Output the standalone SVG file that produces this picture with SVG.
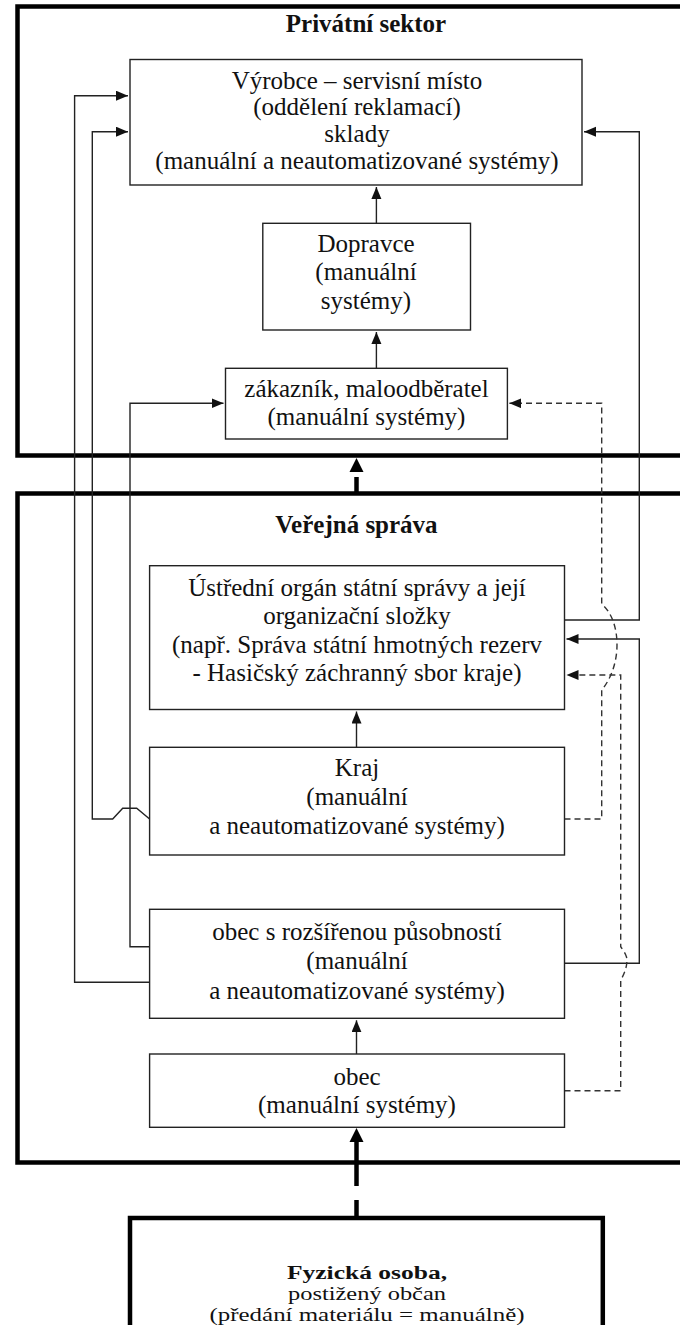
<svg xmlns="http://www.w3.org/2000/svg" width="680" height="1325" viewBox="0 0 680 1325">
<defs>
<style>
.frame{fill:none;stroke:#000;stroke-width:4.5}
.box{fill:#fff;stroke:#222;stroke-width:1.4}
.thick{fill:#fff;stroke:#000;stroke-width:4.5}
.t{font-family:"Liberation Serif","Times New Roman",serif;font-size:25px;fill:#111;text-anchor:middle}
.s{font-size:18.5px}
.b{font-weight:bold}
.c{fill:none;stroke:#222;stroke-width:1.4}
.d{fill:none;stroke:#333;stroke-width:1.4;stroke-dasharray:6 4}
.tk{stroke:#000;stroke-width:4.5}
</style>
<marker id="ah" markerUnits="userSpaceOnUse" markerWidth="13" markerHeight="11" refX="12" refY="5" orient="auto">
<path d="M0,0 L12,5 L0,10 z" fill="#111"/>
</marker>
</defs>
<rect width="680" height="1325" fill="#fff"/>
<g id="frame-privatni">
<rect class="frame" x="17.5" y="6.5" width="690" height="449"/>
<text class="t b" x="366" y="32">Privátní sektor</text>
</g>
<g id="frame-verejna">
<rect class="frame" x="17.5" y="493.5" width="690" height="669"/>
<text class="t b" x="356.5" y="533">Veřejná správa</text>
</g>
<g id="connectors">
<path class="c" d="M149.6,982.3 H74.6 V95.7 H128" marker-end="url(#ah)"/>
<path class="c" d="M149.6,819 L136.7,808.3 H122.7 L112.7,819 H92.3 V131.7 H128" marker-end="url(#ah)"/>
<path class="c" d="M149.6,946.7 H130 V403.3 H223.5" marker-end="url(#ah)"/>
<path class="c" d="M564.5,620 H639.3 V131.7 H584" marker-end="url(#ah)"/>
<path class="c" d="M564.5,963.3 H639.3 V639 H566.5" marker-end="url(#ah)"/>
<path class="d" d="M564.5,819 H601.7 V690 C611,679 617,662 617,645 C617,626 611,612 601.7,604 V403.3 H509.4" marker-end="url(#ah)"/>
<path class="d" d="M564.5,1090.7 H620.7 V980 C625,973 628,964 626.5,957 C625,952 622,949 620.7,946.7 V675 H566.5" marker-end="url(#ah)"/>
<path class="c" d="M376.4,223.3 V187" marker-end="url(#ah)"/>
<path class="c" d="M376.4,368.3 V332" marker-end="url(#ah)"/>
<path class="c" d="M356.5,747.3 V711.5" marker-end="url(#ah)"/>
<path class="c" d="M356.5,1054 V1020.3" marker-end="url(#ah)"/>
<line class="tk" x1="356.5" y1="495" x2="356.5" y2="477"/>
<polygon points="356.5,458 349.5,472 363.5,472" fill="#000"/>
<line class="tk" x1="356.5" y1="1216" x2="356.5" y2="1200"/>
<line class="tk" x1="356.5" y1="1186" x2="356.5" y2="1160"/>
<line class="tk" x1="356.5" y1="1160" x2="356.5" y2="1142"/>
<polygon points="356.5,1128 349.5,1142 363.5,1142" fill="#000"/>
</g>
<g id="vyrobce">
<rect class="box" x="130" y="59.5" width="452" height="125.5"/>
<text class="t" x="357" y="89">Výrobce – servisní místo</text>
<text class="t" x="357" y="115">(oddělení reklamací)</text>
<text class="t" x="357" y="142">sklady</text>
<text class="t" x="357" y="169">(manuální a neautomatizované systémy)</text>
</g>
<g id="dopravce">
<rect class="box" x="262.8" y="223.3" width="207.7" height="106.7"/>
<text class="t" x="366" y="252">Dopravce</text>
<text class="t" x="366" y="280">(manuální</text>
<text class="t" x="366" y="308.7">systémy)</text>
</g>
<g id="zakaznik">
<rect class="box" x="225.5" y="368.3" width="281.9" height="70.7"/>
<text class="t" x="366.5" y="397">zákazník, maloodběratel</text>
<text class="t" x="366.5" y="425">(manuální systémy)</text>
</g>
<g id="ustredni">
<rect class="box" x="149.6" y="565.7" width="414.9" height="143.8"/>
<text class="t" x="357" y="596">Ústřední orgán státní správy a její</text>
<text class="t" x="357" y="624">organizační složky</text>
<text class="t" x="357" y="653">(např. Správa státní hmotných rezerv</text>
<text class="t" x="357" y="681">- Hasičský záchranný sbor kraje)</text>
</g>
<g id="kraj">
<rect class="box" x="149.6" y="747.3" width="414.9" height="107.7"/>
<text class="t" x="357" y="776">Kraj</text>
<text class="t" x="357" y="805">(manuální</text>
<text class="t" x="357" y="834">a neautomatizované systémy)</text>
</g>
<g id="orp">
<rect class="box" x="149.6" y="909.3" width="414.9" height="109"/>
<text class="t" x="357" y="940">obec s rozšířenou působností</text>
<text class="t" x="357" y="969">(manuální</text>
<text class="t" x="357" y="999">a neautomatizované systémy)</text>
</g>
<g id="obec">
<rect class="box" x="149.6" y="1054" width="414.9" height="73.3"/>
<text class="t" x="357" y="1085">obec</text>
<text class="t" x="357" y="1113">(manuální systémy)</text>
</g>
<g id="fyzicka">
<rect class="thick" x="130" y="1218" width="472.8" height="120"/>
<text class="t s b" x="367" y="1279" textLength="160" lengthAdjust="spacingAndGlyphs">Fyzická osoba,</text>
<text class="t s" x="367" y="1300" textLength="158" lengthAdjust="spacingAndGlyphs">postižený občan</text>
<text class="t s" x="367" y="1321" textLength="315" lengthAdjust="spacingAndGlyphs">(předání materiálu = manuálně)</text>
</g>
</svg>
